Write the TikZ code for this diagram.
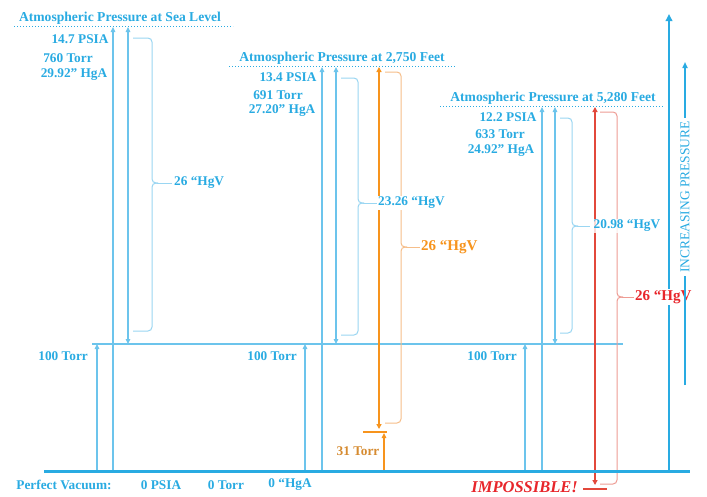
\documentclass[tikz,border=0pt]{standalone}
\usepackage{fontspec}
\setmainfont{Liberation Serif}
\usetikzlibrary{arrows.meta,calc}
\definecolor{blu}{HTML}{29ABE2}
\definecolor{lblu}{HTML}{6CC4EC}
\definecolor{bblu}{HTML}{9AD6F2}
\definecolor{org}{HTML}{F7941D}
\definecolor{lorg}{HTML}{F6BE8A}
\definecolor{rd}{HTML}{E2483B}
\definecolor{lrd}{HTML}{EE9C94}
\definecolor{txtred}{HTML}{E8262B}
\newcommand{\mybrace}[7]{% color, x0, xb, yt, ym, yb, tick end x
  \draw[#1,line width=1pt,rounded corners=4pt] (#2,#4) -- (#3,#4) -- (#3,#5) -- (#3+6,#5);
  \draw[#1,line width=1pt,rounded corners=4pt] (#3+6,#5) -- (#3,#5) -- (#3,#6) -- (#2,#6);
  \draw[#1,line width=1pt] (#3+5,#5) -- (#7,#5);}
\begin{document}
\begin{tikzpicture}[x=1pt,y=-1pt,
  txt/.style={font=\fontsize{13.3}{14}\selectfont\bfseries,text=blu,inner sep=0pt},
  ttl/.style={font=\fontsize{13.6}{14}\selectfont\bfseries,text=blu,inner sep=0pt},
  big/.style={font=\fontsize{15}{16}\selectfont\bfseries,inner sep=1pt,fill=white},
  thin/.style={draw=lblu,line width=1.1pt},
  tip/.style={-{Triangle[length=5pt,width=4.5pt]}},
  dots/.style={draw=blu,line width=0.9pt,dash pattern=on 1.4pt off 1.6pt},
  ]
\useasboundingbox[fill=white] (0,0) rectangle (707,496);

% --- horizontal lines ---
\coordinate (b0) at (44,471); \coordinate (b1) at (690,471);
\coordinate (h0) at (92,344); \coordinate (h1) at (623,344);
\draw[thin] (h0) -- (h1);

% --- titles ---
\node[ttl] (t1) at (120,18) {Atmospheric Pressure at Sea Level};
\node[ttl] (t2) at (342,58) {Atmospheric Pressure at 2,750 Feet};
\node[ttl] (t3) at (553,98) {Atmospheric Pressure at 5,280 Feet};
\draw[dots] (14,26) -- (233,26);
\draw[dots] (229,66) -- (455,66);
\draw[dots] (440,106) -- (664,106);

% --- values ---
\node[txt] (s1a) at (80,39) {14.7 PSIA};
\node[txt] (s1b) at (68,58) {760 Torr};
\node[txt] (s1c) at (74,75) {29.92” HgA};
\node[txt] (s2a) at (288,77) {13.4 PSIA};
\node[txt] (s2b) at (278,95) {691 Torr};
\node[txt] (s2c) at (282,111) {27.20” HgA};
\node[txt] (s3a) at (508,117) {12.2 PSIA};
\node[txt] (s3b) at (500,134) {633 Torr};
\node[txt] (s3c) at (501,151) {24.92” HgA};

% --- section 1 ---
\coordinate (a1b) at (113,471); \coordinate (a1t) at (113,27);
\draw[thin,tip] (a1b) -- (a1t);
\coordinate (d1b) at (128,344); \coordinate (d1t) at (128,27);
\draw[thin,{Triangle[length=5pt,width=4.5pt]}-{Triangle[length=5pt,width=4.5pt]}] (d1b) -- (d1t);
\mybrace{bblu}{133}{152}{38}{183}{331}{172}
\node[txt,anchor=west] (v1) at (174,183) {26 “HgV};
\coordinate (p1b) at (97,471); \coordinate (p1t) at (97,344);
\draw[thin,tip] (p1b) -- (p1t);
\node[txt,anchor=east] (q1) at (88,356) {100 Torr};

% --- section 2 ---
\coordinate (a2b) at (322,471); \coordinate (a2t) at (322,67);
\draw[thin,tip] (a2b) -- (a2t);
\coordinate (d2b) at (336,344); \coordinate (d2t) at (336,67);
\draw[thin,{Triangle[length=5pt,width=4.5pt]}-{Triangle[length=5pt,width=4.5pt]}] (d2b) -- (d2t);
\mybrace{bblu}{341}{358}{78}{203}{335}{377}
\coordinate (p2b) at (305,471); \coordinate (p2t) at (305,344);
\draw[thin,tip] (p2b) -- (p2t);
\node[txt,anchor=east] (q2) at (297,356) {100 Torr};
% orange
\coordinate (o1b) at (379,429); \coordinate (o1t) at (379,67);
\draw[org,line width=2pt,{Triangle[length=5pt,width=5pt]}-{Triangle[length=5pt,width=5pt]}] (o1b) -- (o1t);
\coordinate (ob0) at (363,432); \coordinate (ob1) at (387,432);
\draw[org,line width=1.8pt] (ob0) -- (ob1);
\coordinate (o2b) at (384,471); \coordinate (o2t) at (384,433);
\draw[org,line width=1.5pt,tip] (o2b) -- (o2t);
\node[font=\fontsize{13.3}{14}\selectfont\bfseries,text=org!85!black!90,inner sep=0pt] (o31) at (358,451) {31 Torr};
\mybrace{lorg}{385}{401}{72}{247}{423}{420}
\node[big,anchor=west,text=org] (v2o) at (420,247) {26 “HgV};
\node[txt,anchor=west,fill=white,inner sep=1pt] (v2) at (377,203) {23.26 “HgV};

% --- section 3 ---
\coordinate (a3b) at (542,471); \coordinate (a3t) at (542,107);
\draw[thin,tip] (a3b) -- (a3t);
\coordinate (d3b) at (555,344); \coordinate (d3t) at (555,107);
\draw[thin,{Triangle[length=5pt,width=4.5pt]}-{Triangle[length=5pt,width=4.5pt]}] (d3b) -- (d3t);
\mybrace{bblu}{560}{572}{118}{226}{333}{590}
\coordinate (p3b) at (525,471); \coordinate (p3t) at (525,344);
\draw[thin,tip] (p3b) -- (p3t);
\node[txt,anchor=east] (q3) at (517,356) {100 Torr};
% red
\coordinate (r1b) at (595,485); \coordinate (r1t) at (595,107);
\draw[rd,line width=2pt,{Triangle[length=5pt,width=5pt]}-{Triangle[length=5pt,width=5pt]}] (r1b) -- (r1t);
\coordinate (rb0) at (583,489); \coordinate (rb1) at (607,489);
\draw[rd,line width=1.8pt] (rb0) -- (rb1);
\mybrace{lrd}{600}{617}{112}{297}{484}{634}
\node[font=\fontsize{16.5}{17}\selectfont\bfseries\itshape,text=txtred,inner sep=0pt,anchor=east] (imp) at (578,487) {IMPOSSIBLE!};

% --- right axis ---
\coordinate (axb) at (669,471); \coordinate (axt) at (669,14);
\draw[blu,line width=2.2pt,-{Triangle[length=7pt,width=6.5pt]}] (axb) -- (axt);
\draw[blu,line width=3pt] (b0) -- (b1);
\node[txt,anchor=west,fill=white,fill opacity=0.8,text opacity=1,inner sep=1.5pt] (v3) at (592,226) {20.98 “HgV};
\node[big,anchor=west,text=txtred] (v3r) at (634,297) {26 “HgV};
\coordinate (ipb) at (685,385); \coordinate (ipt) at (685,62);
\draw[blu,line width=1.6pt,-{Triangle[length=6pt,width=5pt]}] (ipb) -- (ipt);
\node[rotate=90,fill=white,text=blu,inner sep=3pt,font=\fontsize{13.5}{14}\selectfont] (ip) at (685,197) {INCREASING PRESSURE};

% --- bottom labels ---
\node[txt] (pv) at (64,485) {Perfect Vacuum:};
\node[txt] (z1) at (161,485) {0 PSIA};
\node[txt] (z2) at (226,485) {0 Torr};
\node[txt] (z3) at (290,485) {0 “HgA};
\end{tikzpicture}
\end{document}
